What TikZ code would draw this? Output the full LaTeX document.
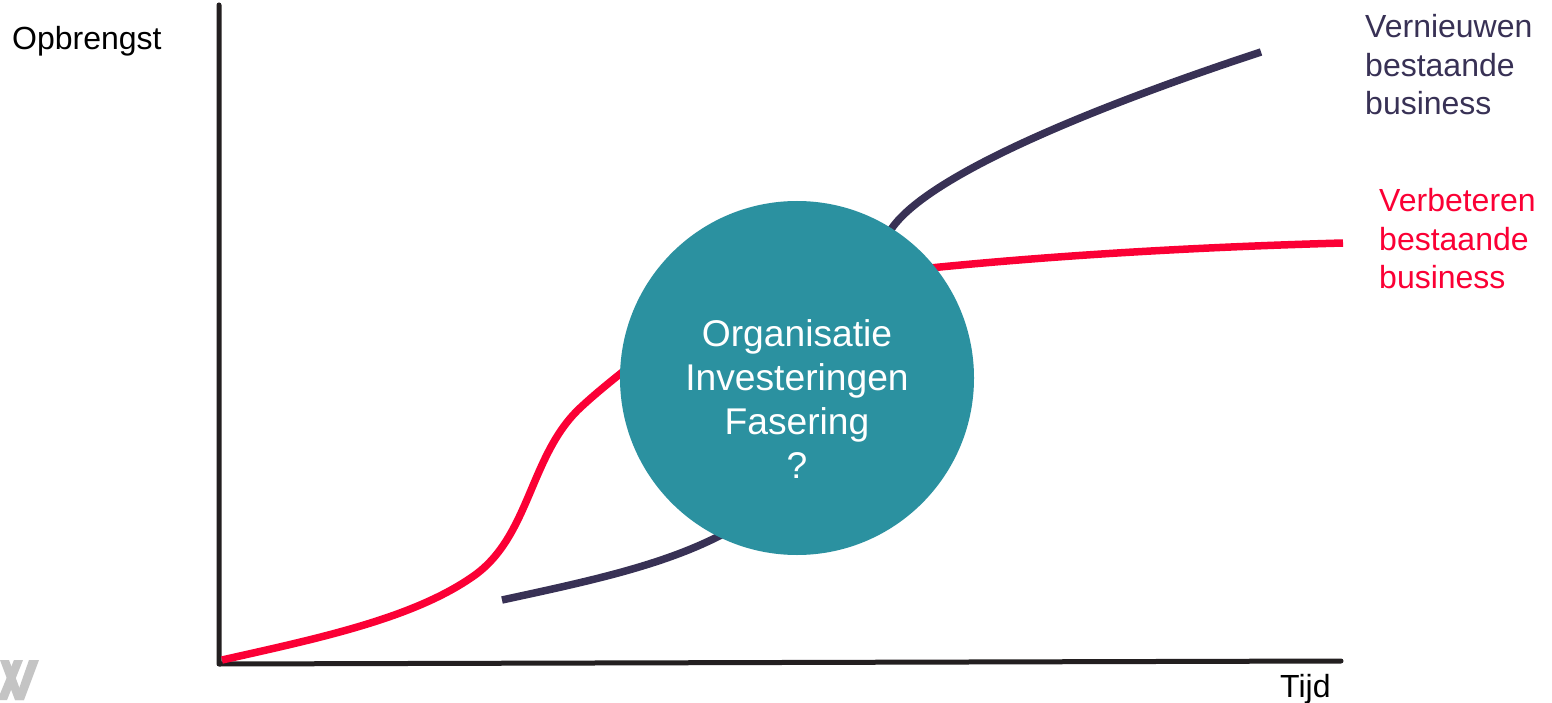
\documentclass[tikz,border=0pt]{standalone}
\usepackage{fontspec}
\setmainfont{Liberation Sans}
\definecolor{navy}{HTML}{383155}
\definecolor{redc}{HTML}{FB0035}
\definecolor{teal}{HTML}{2B91A0}
\definecolor{axisc}{HTML}{231F20}
\definecolor{logoc}{HTML}{C4C4C4}
\begin{document}
\begin{tikzpicture}[x=1pt,y=-1pt,
  lbl/.style={font=\fontsize{32}{38.5}\selectfont,inner sep=0pt,align=left,anchor=base west},
  axisline/.style={draw=axisc,line width=5pt,line cap=round,line join=round},
  curve/.style={line width=7.5pt}]
\useasboundingbox (0,0) rectangle (1552,703);
\fill[white] (0,0) rectangle (1552,703);
% logo fragment
\fill[logoc] (0,660) -- (9,660) -- (24,700) -- (15,700) -- cycle;
\fill[logoc] (14,660) -- (23,660) -- (7,700) -- (0,700) -- (0,694) -- cycle;
\fill[logoc] (29,660) -- (39,660) -- (24,700) -- (15,700) -- cycle;
\coordinate (o) at (219,664);
\coordinate (ytop) at (219,5);
\coordinate (xend) at (1341,661);
\draw[axisline] (ytop) -- (o) -- (xend);
\coordinate (r0) at (222,660);
\coordinate (r1) at (625,370);
\coordinate (r2) at (930,268);
\coordinate (r3) at (1343,243);
\coordinate (n0) at (502,600);
\coordinate (n1) at (725,533);
\coordinate (n2) at (890,231);
\coordinate (n3) at (1261,52);
\draw[curve,redc] (r0) .. controls (320,638) and (415,618) .. (475,575)
  .. controls (530,535) and (530,455) .. (580,408)
  .. controls (595,394) and (610,382) .. (r1);
\draw[curve,redc] (r2) .. controls (1060,255) and (1200,247) .. (r3);
\draw[curve,navy] (n0) .. controls (590,581) and (665,565) .. (n1);
\draw[curve,navy] (n2) .. controls (925,175) and (1100,105) .. (n3);
\node[circle,fill=teal,minimum size=354pt,inner sep=0pt] (c) at (797,378) {};
\node[font=\fontsize{37.2}{44}\selectfont,text=white,align=center,anchor=center] (ct) at (797,399) {Organisatie\\Investeringen\\Fasering\\?};
\node[lbl] (op) at (12,50) {Opbrengst};
\node[lbl,text=navy] (ve) at (1365,115) {Vernieuwen\\bestaande\\business};
\node[lbl,text=redc] (vb) at (1379,288.5) {Verbeteren\\bestaande\\business};
\node[lbl] (t) at (1280,697) {Tijd};
\end{tikzpicture}
\end{document}
